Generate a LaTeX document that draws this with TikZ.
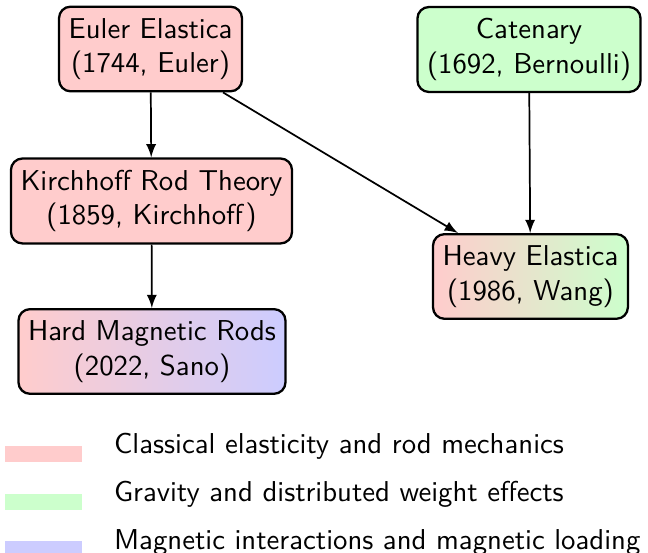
\documentclass[tikz,border=0pt]{standalone}
\begin{document}
\begin{tikzpicture}[font=\sffamily,
		work/.style={draw, rounded corners=4pt, align=center, thick, inner ysep=4pt},
		key/.style={minimum width=0.941cm, minimum height=0.196cm, inner sep=0pt}]
			\useasboundingbox (0,0) rectangle (7.922,-6.76);
			\node[work, fill=red!20] (euler) at (1.84,-0.599) {Euler Elastica\\(1744, Euler)};
			\node[work, fill=green!20] (catenary) at (6.467,-0.605) {Catenary\\(1692, Bernoulli)};
			\node[work, fill=red!20] (kirchhoff) at (1.852,-2.457) {Kirchhoff Rod Theory\\(1859, Kirchhoff)};
			\node[work, left color=red!20, right color=blue!20] (magnetic) at (1.858,-4.297) {Hard Magnetic Rods\\(2022, Sano)};
			\node[work, left color=red!20, right color=green!20] (heavy) at (6.485,-3.38) {Heavy Elastica\\(1986, Wang)};
			\draw[-latex, semithick] (euler) -- (kirchhoff);
			\draw[-latex, semithick] (kirchhoff) -- (magnetic);
			\draw[-latex, semithick] (euler) -- (heavy);
			\draw[-latex, semithick] (catenary) -- (heavy);
			\node[key, fill=red!20] (keyred) at (0.532,-5.55) {};
			\node[key, fill=green!20] (keygreen) at (0.532,-6.137) {};
			\node[key, fill=blue!20] (keyblue) at (0.532,-6.711) {};
			\node[right] (textred) at (1.27,-5.462) {Classical elasticity and rod mechanics};
			\node[right] (textgreen) at (1.27,-6.049) {Gravity and distributed weight effects};
			\node[right] (textblue) at (1.27,-6.636) {Magnetic interactions and magnetic loading};
		\end{tikzpicture}
\end{document}
